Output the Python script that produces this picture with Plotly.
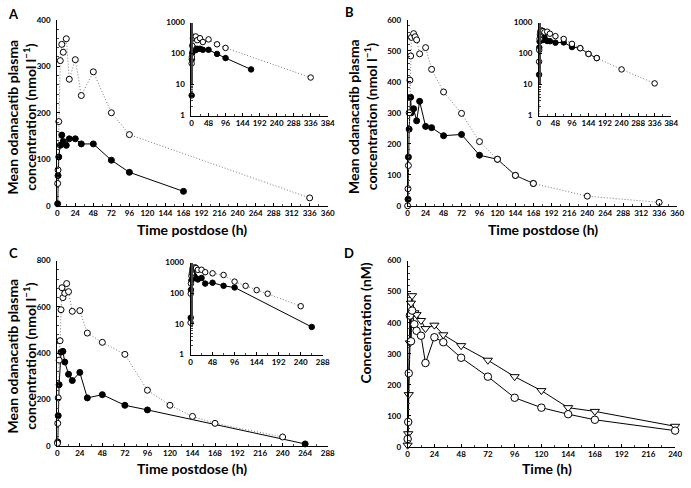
import plotly.graph_objects as go

# Panel A
a_fill_t = [0.5, 1, 2, 4, 6, 8, 12, 16, 24, 32, 48, 72, 96, 168]
a_fill_y = [4.5, 65, 105, 130, 152, 138, 130, 144, 144, 133, 133, 98, 72, 31]
a_open_t = [0.5, 1, 2, 4, 6, 8, 12, 16, 24, 32, 48, 72, 96, 336]
a_open_y = [48, 77, 181, 312, 347, 330, 359, 272, 314, 237, 288, 200, 153, 17]

# Panel B
b_fill_t = [0.5, 1, 2, 4, 5, 8, 12, 16, 24, 32, 48, 72, 96, 120, 144, 168]
b_fill_y = [21, 157, 247, 350, 300, 313, 274, 337, 256, 252, 226, 230, 163, 150, 98, 72]
b_open_t = [0, 0.5, 1, 2, 3, 4, 5, 8, 10, 12, 16, 24, 32, 48, 72, 96, 120, 144, 168, 240, 336]
b_open_y = [0, 55, 130, 300, 405, 483, 543, 555, 545, 535, 490, 510, 440, 367, 298, 207, 150, 98, 72, 31, 11]

# Panel C
c_fill_t = [0.5, 1, 2, 4, 6, 8, 12, 16, 24, 32, 48, 72, 96, 264]
c_fill_y = [16, 130, 264, 405, 408, 362, 309, 282, 317, 207, 221, 175, 155, 8]
c_open_t = [0.2, 0.5, 1, 2, 3, 4, 5, 6, 8, 10, 12, 16, 24, 32, 48, 72, 96, 120, 144, 168, 240]
c_open_y = [11, 97, 207, 370, 454, 588, 683, 640, 659, 701, 666, 581, 584, 487, 447, 395, 240, 175, 127, 97, 38]

# Panel D
d_tri_t = [0, 0.5, 1, 2, 3, 4, 6, 8, 12, 16, 24, 32, 48, 72, 96, 120, 144, 168, 240]
d_tri_y = [5, 42, 168, 335, 463, 487, 432, 426, 407, 381, 392, 361, 326, 279, 226, 181, 126, 114, 66]
d_circ_t = [0, 0.5, 1, 2, 3, 4, 6, 8, 12, 16, 24, 32, 48, 72, 96, 120, 144, 168, 240]
d_circ_y = [25, 80, 237, 423, 340, 439, 395, 374, 358, 270, 353, 337, 287, 226, 158, 126, 105, 87, 52]

W, H = 691, 488
FONT = "Lato"


def px_x(p):
    return p / W


def px_y(p):
    return 1 - p / H


def axis(dom, rng, dtick, minor, anchor, log=False, standoff=0):
    d = dict(domain=dom, range=rng, anchor=anchor, showline=True, linecolor="black",
             linewidth=1, mirror=False, ticks="inside", ticklen=3, tickcolor="black",
             showgrid=False, zeroline=False, dtick=dtick, ticklabelstandoff=standoff,
             tickfont=dict(family=FONT, size=8, color="black", weight="bold"),
             minor=dict(ticks="inside", ticklen=2, tickcolor="#444"))
    if minor:
        d["minor"]["dtick"] = minor
    if log:
        d["type"] = "log"
        d["tickvals"] = [1, 10, 100, 1000]
        d.pop("dtick")
    return d


fig = go.Figure()

# (name, xpx, ypx, xrange, xdtick, xminor, yrange, ydtick, yminor, log)
panels = [
    ("", (56, 330), (15, 205), [0, 360], 24, 12, [0, 400], 100, 20, False),
    ("2", (192, 330), (18, 113), [0, 384], 48, 24, [0, 3], None, None, True),
    ("3", (411, 684), (15, 205), [0, 360], 24, 12, [0, 600], 100, 20, False),
    ("4", (544, 678), (18, 113), [0, 384], 48, 24, [0, 3], None, None, True),
    ("5", (56, 330), (261, 450), [0, 288], 24, 12, [0, 800], 200, 40, False),
    ("6", (191, 325), (263, 357), [0, 288], 48, 24, [0, 3], None, None, True),
    ("7", (411, 682), (261, 451), [0, 240], 24, 12, [0, 600], 100, 20, False),
]

for n, xp, yp, xr, xd, xm, yr, yd, ym, log in panels:
    xdom = [px_x(xp[0]), px_x(xp[1])]
    ydom = [px_y(yp[1]), px_y(yp[0])]
    fig.layout["xaxis" + n] = axis(xdom, xr, xd, xm, "y" + n)
    fig.layout["yaxis" + n] = axis(ydom, yr, yd, ym, "x" + n, log, standoff=4)


def add_pair(t1, y1, t2, y2, ax, size):
    xa, ya = "x" + ax, "y" + ax
    fig.add_trace(go.Scatter(x=t1, y=y1, mode="lines+markers", xaxis=xa, yaxis=ya,
                             line=dict(color="black", width=1),
                             marker=dict(color="black", size=size, line=dict(color="black", width=1)),
                             cliponaxis=False, showlegend=False))
    fig.add_trace(go.Scatter(x=t2, y=y2, mode="lines+markers", xaxis=xa, yaxis=ya,
                             line=dict(color="#777", width=1, dash="1px,2px"),
                             marker=dict(color="white", size=size, line=dict(color="black", width=1)),
                             cliponaxis=False, showlegend=False))


add_pair(a_fill_t, a_fill_y, a_open_t, a_open_y, "", 6)
add_pair(a_fill_t, a_fill_y, a_open_t, a_open_y, "2", 5.5)
add_pair(b_fill_t, b_fill_y, b_open_t, b_open_y, "3", 6)
add_pair(b_fill_t, b_fill_y, b_open_t, b_open_y, "4", 5.5)
add_pair(c_fill_t, c_fill_y, c_open_t, c_open_y, "5", 6)
add_pair(c_fill_t, c_fill_y, c_open_t, c_open_y, "6", 5.5)

fig.add_trace(go.Scatter(x=d_tri_t, y=d_tri_y, mode="lines+markers", xaxis="x7", yaxis="y7",
                         line=dict(color="black", width=1),
                         marker=dict(symbol="triangle-down", color="white", size=8,
                                     line=dict(color="black", width=1)),
                         cliponaxis=False, showlegend=False))
fig.add_trace(go.Scatter(x=d_circ_t, y=d_circ_y, mode="lines+markers", xaxis="x7", yaxis="y7",
                         line=dict(color="black", width=1),
                         marker=dict(symbol="circle", color="white", size=7.5,
                                     line=dict(color="black", width=1)),
                         cliponaxis=False, showlegend=False))

ann = []
title_font = dict(family=FONT, size=14, color="black", weight="bold")
ytitle = "Mean odanacatib plasma<br>concentration (nmol l<sup>−1</sup>)"


def note(text, x, y, font, angle=0):
    ann.append(dict(text=text, x=px_x(x), y=px_y(y), xref="paper", yref="paper",
                    xanchor="center", yanchor="middle", showarrow=False,
                    textangle=angle, font=font))


for lbl, lx, ly in [("A", 12, 9), ("B", 352, 7), ("C", 12, 253), ("D", 352, 253)]:
    note(lbl, lx, ly, dict(family=FONT, size=13, color="black", weight="bold"))
for tx, ty in [(20, 114), (365, 114), (20, 358)]:
    note(ytitle, tx, ty, title_font, -90)
note("Concentration (nM)", 368, 325, title_font, -90)
for tx, ty, txt in [(193, 229, "Time postdose (h)"), (548, 229, "Time postdose (h)"),
                    (193, 473, "Time postdose (h)"), (552, 473, "Time (h)")]:
    note(txt, tx, ty, title_font)

fig.update_layout(width=W, height=H, margin=dict(l=0, r=0, t=0, b=0),
                  paper_bgcolor="white", plot_bgcolor="white", annotations=ann,
                  font=dict(family=FONT, color="black"))

# drop the default page margin so the figure sits at the window's corner
fig.write_html("out.html", config={"displayModeBar": False},
               post_script="document.body.style.margin='0';document.body.style.overflow='hidden';")
